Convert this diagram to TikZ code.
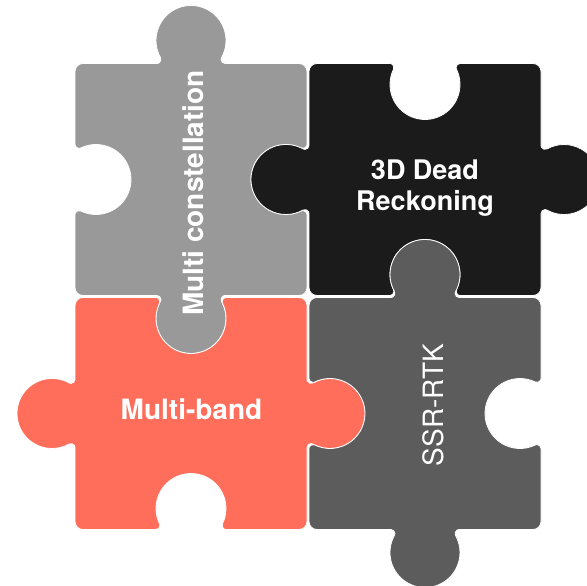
\documentclass[tikz,border=0pt]{standalone}
\usepackage{fontspec}
\setmainfont{TeX Gyre Heros}
\definecolor{pzgray}{HTML}{999999}
\definecolor{pzblack}{HTML}{1B1B1B}
\definecolor{pzdark}{HTML}{5C5C5C}
\definecolor{pzred}{HTML}{FF6E5A}

% puzzle geometry (pt): knob radius, fillet radius, fillet offsets and angles
\def\R{35}
\def\F{4}
\def\TA{34.06}
\def\TP{29.15}
\def\SB{35.10}
\def\SP{25.84}

% outward knob centred on edge point (#1,#2); edge travelled in direction #3
\newcommand\tabout[3]{-- ([shift={(#1,#2)}]#3+180:\TA)
  arc[start angle=#3+90,end angle=#3-\TP,radius=\F]
  arc[start angle=#3+180-\TP,end angle=#3+360+\TP,radius=\R]
  arc[start angle=#3+180+\TP,end angle=#3+90,radius=\F]}
% inward socket centred on edge point (#1,#2); edge travelled in direction #3
\newcommand\slotin[3]{-- ([shift={(#1,#2)}]#3+180:\SB)
  arc[start angle=#3-90,end angle=#3+\SP,radius=\F]
  arc[start angle=#3+180+\SP,end angle=#3-\SP,radius=\R]
  arc[start angle=#3+180-\SP,end angle=#3+270,radius=\F]}

\begin{document}
\begin{tikzpicture}[x=1pt,y=1pt,
  piece/.style={draw=white,line width=0.8pt},
  lbl/.style={text=white,inner sep=0pt,font=\fontsize{28}{33}\selectfont\bfseries}]
\useasboundingbox (0,0) rectangle (587,586);
\clip (0,0) rectangle (587,586);

% top left
\path[piece,fill=pzgray] (83,290.5) \tabout{191}{290.5}{0} -- (299,290.5)
  arc[start angle=-90,end angle=0,radius=8] \slotin{307}{406.5}{90} -- (307,514.5)
  arc[start angle=0,end angle=90,radius=8] \tabout{191}{522.5}{180} -- (83,522.5)
  arc[start angle=90,end angle=180,radius=8] \slotin{75}{406.5}{270} -- (75,298.5)
  arc[start angle=180,end angle=270,radius=8] -- cycle;

% top right
\path[piece,fill=pzblack] (317,290.5) \slotin{425}{290.5}{0} -- (533,290.5)
  arc[start angle=-90,end angle=0,radius=8] \tabout{541}{406.5}{90} -- (541,514.5)
  arc[start angle=0,end angle=90,radius=8] \slotin{425}{522.5}{180} -- (317,522.5)
  arc[start angle=90,end angle=180,radius=8] \tabout{309}{406.5}{270} -- (309,298.5)
  arc[start angle=180,end angle=270,radius=8] -- cycle;

% bottom left
\path[piece,fill=pzred] (83,56.5) \slotin{191}{56.5}{0} -- (299,56.5)
  arc[start angle=-90,end angle=0,radius=8] \tabout{307}{172.5}{90} -- (307,280.5)
  arc[start angle=0,end angle=90,radius=8] \slotin{191}{288.5}{180} -- (83,288.5)
  arc[start angle=90,end angle=180,radius=8] \tabout{75}{172.5}{270} -- (75,64.5)
  arc[start angle=180,end angle=270,radius=8] -- cycle;

% bottom right
\path[piece,fill=pzdark] (317,56.5) \tabout{425}{56.5}{0} -- (533,56.5)
  arc[start angle=-90,end angle=0,radius=8] \slotin{541}{172.5}{90} -- (541,280.5)
  arc[start angle=0,end angle=90,radius=8] \tabout{425}{288.5}{180} -- (317,288.5)
  arc[start angle=90,end angle=180,radius=8] \slotin{309}{172.5}{270} -- (309,64.5)
  arc[start angle=180,end angle=270,radius=8] -- cycle;

% labels
\node[lbl,rotate=90,anchor=base] (mc) at (203,393) {Multi constellation};
\node[lbl,align=center,font=\fontsize{27}{31.7}\selectfont\bfseries] (dr) at (425,398) {3D Dead\\Reckoning};
\node[lbl,anchor=base] (mb) at (191.5,166.3) {Multi-band};
\node[lbl,rotate=90,anchor=base,font=\fontsize{28}{33}\selectfont] (ssr) at (443,181) {SSR-RTK};
\end{tikzpicture}
\end{document}
